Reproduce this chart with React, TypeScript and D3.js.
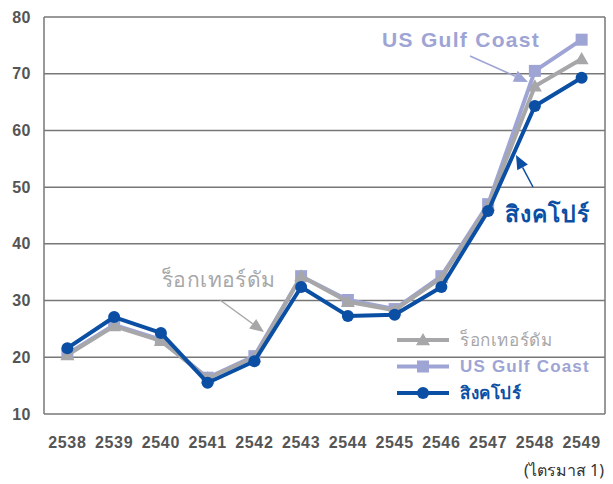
import React from "react";
import * as d3 from "d3";

const years = ["2538","2539","2540","2541","2542","2543","2544","2545","2546","2547","2548","2549"];
const rotterdam = [20.4,25.5,22.9,16.3,20.0,34.3,29.8,28.3,34.0,46.7,67.8,72.6];
const usGulf = [20.6,25.7,23.1,16.4,20.2,34.3,30.1,28.5,34.3,47.0,70.5,76.0];
const singapore = [21.6,27.1,24.3,15.5,19.3,32.4,27.3,27.5,32.4,45.8,64.3,69.3];
const yTicks = [10,20,30,40,50,60,70,80];
const names = ["ร็อกเทอร์ดัม", "US Gulf Coast", "สิงคโปร์"];

const W = 613, H = 484;
const L = 44, R = 605, T = 17, B = 414;
const C_GREY = "#a7a7a9";
const C_PURPLE = "#9ea4d4";
const C_BLUE = "#0a4fa3";
const FONT = "'Noto Sans', 'DejaVu Sans', sans-serif";
const LFONT = "'Liberation Sans', Arial, sans-serif";

function Marker({ kind, x, y, color }: { kind: string; x: number; y: number; color: string }) {
  if (kind === "circle") return <circle cx={x} cy={y} r={6} fill={color} />;
  if (kind === "square") return <rect x={x - 6} y={y - 6} width={12} height={12} fill={color} />;
  const s = 7;
  return <path d={`M${x},${y - s}L${x + s},${y + s * 0.75}L${x - s},${y + s * 0.75}Z`} fill={color} />;
}

function Arrow({ x1, y1, x2, y2, color }: { x1: number; y1: number; x2: number; y2: number; color: string }) {
  const ang = Math.atan2(y2 - y1, x2 - x1);
  const len = 14, half = 6;
  const bx = x2 - len * Math.cos(ang), by = y2 - len * Math.sin(ang);
  const px = -Math.sin(ang) * half, py = Math.cos(ang) * half;
  return (
    <g>
      <line x1={x1} y1={y1} x2={bx} y2={by} stroke={color} strokeWidth={1.5} />
      <path d={`M${x2},${y2}L${bx + px},${by + py}L${bx - px},${by - py}Z`} fill={color} />
    </g>
  );
}

export default function App() {
  const x = d3.scalePoint<string>().domain(years).range([L, R]).padding(0.5);
  const y = d3.scaleLinear().domain([10, 80]).range([B, T]);
  const line = d3.line<number>().x((_, i) => x(years[i])!).y((d) => y(d));

  const series = [
    { name: names[1], data: usGulf, color: C_PURPLE, kind: "square" },
    { name: names[0], data: rotterdam, color: C_GREY, kind: "triangle" },
    { name: names[2], data: singapore, color: C_BLUE, kind: "circle" },
  ];

  const legend = [
    { name: names[0], color: C_GREY, kind: "triangle", weight: 400, ls: 0.6 },
    { name: names[1], color: C_PURPLE, kind: "square", weight: 700, ls: 1.2 },
    { name: names[2], color: C_BLUE, kind: "circle", weight: 700, ls: 0.6 },
  ];

  return (
    <svg width={W} height={H} style={{ display: "block", position: "absolute", left: 0, top: 0 }} fontFamily={FONT}>
      <rect width={W} height={H} fill="#fff" />
      {yTicks.map((t) => (
        <g key={t}>
          <line x1={L} x2={R} y1={y(t)} y2={y(t)} stroke="#777" strokeWidth={1.5} />
          <text x={31} y={y(t)} dy="0.35em" textAnchor="end" fontFamily={LFONT} fontSize={16} fontWeight={700} letterSpacing={0.5} fill="#555">{t}</text>
        </g>
      ))}
      <line x1={L} x2={L} y1={T} y2={B} stroke="#777" strokeWidth={1.5} />
      <line x1={R} x2={R} y1={T} y2={B} stroke="#777" strokeWidth={1.5} />
      {years.map((yr) => (
        <text key={yr} x={x(yr)!} y={442} dy="0.35em" textAnchor="middle" fontFamily={LFONT} fontSize={16} fontWeight={700} letterSpacing={0.7} fill="#555">{yr}</text>
      ))}
      <text x={604} y={470} dy="0.35em" textAnchor="end" fontSize={16} fill="#333">(ไตรมาส 1)</text>

      {series.map((s) => (
        <g key={s.name}>
          <path d={line(s.data)!} fill="none" stroke={s.color} strokeWidth={4} strokeLinejoin="round" />
          {s.data.map((v, i) => (
            <Marker key={i} kind={s.kind} x={x(years[i])!} y={y(v)} color={s.color} />
          ))}
        </g>
      ))}

      {/* annotations */}
      <text x={382} y={40} dy="0.35em" fontFamily={LFONT} fontSize={21} fontWeight={700} letterSpacing={1.3} fill={C_PURPLE}>{names[1]}</text>
      <Arrow x1={470} y1={56} x2={528} y2={82} color={C_PURPLE} />
      <text x={505} y={214} dy="0.35em" fontSize={23} fontWeight={700} letterSpacing={1} fill={C_BLUE}>{names[2]}</text>
      <Arrow x1={533} y1={187} x2={516} y2={155} color={C_BLUE} />
      <text x={162} y={280} dy="0.35em" fontSize={21} letterSpacing={0.4} fill={C_GREY}>{names[0]}</text>
      <Arrow x1={220} y1={300} x2={264} y2={332} color={C_GREY} />

      {/* legend */}
      {legend.map((l, i) => {
        const ly = 340 + i * 26.5;
        return (
          <g key={l.name}>
            <line x1={397} x2={449} y1={ly} y2={ly} stroke={l.color} strokeWidth={4} />
            <Marker kind={l.kind} x={423} y={ly} color={l.color} />
            <text x={460} y={ly} dy="0.35em" fontFamily={i === 1 ? LFONT : FONT} fontSize={17} fontWeight={l.weight} letterSpacing={l.ls} fill={l.color}>{l.name}</text>
          </g>
        );
      })}
    </svg>
  );
}
